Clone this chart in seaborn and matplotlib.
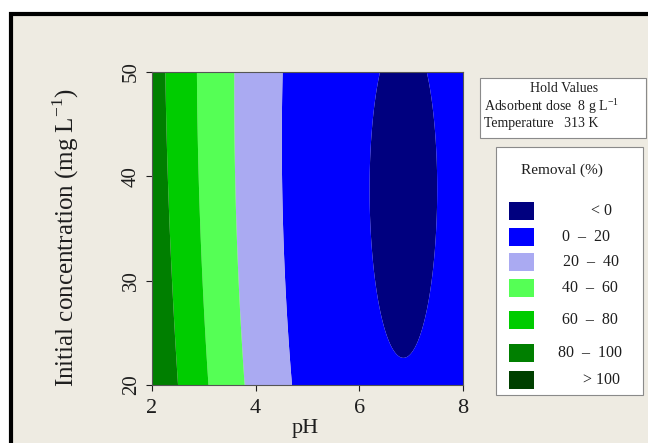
import numpy as np
import matplotlib
matplotlib.use("Agg")
import matplotlib.pyplot as plt
from matplotlib.patches import Rectangle
import seaborn as sns

# Experimental ranges of the two factors shown
ph_range = [2.0, 8.0]
conc_range = [20.0, 50.0]

# Fitted response-surface coefficients for removal (%)
ph_optimum = 6.85          # pH where removal is lowest
conc_optimum = 38.4        # concentration where removal is lowest
ph_curvature = [4.20, 3.83]  # curvature in pH at 20 and 50 mg/L
conc_curvature = 0.00677
min_removal = -1.69

# Contour classes
levels = [-20, 0, 20, 40, 60, 80, 100, 140]
class_labels = ["< 0", "0  \u2013  20", "20  \u2013  40", "40  \u2013  60",
                "60  \u2013  80", "80  \u2013  100", "> 100"]
class_colors = ["#00007F", "#0000FF", "#AAAAF2", "#55FF55",
                "#00CC00", "#007F00", "#004000"]

hold_title = "Hold Values"
hold_lines = ["Adsorbent dose  8 g L$^{-1}$", "Temperature   313 K"]

sns.set_theme(style="white")
plt.rcParams["font.family"] = ["Liberation Serif", "DejaVu Serif"]
plt.rcParams["mathtext.fontset"] = "custom"
plt.rcParams["mathtext.rm"] = "Liberation Serif"

W, H = 648, 443
fig = plt.figure(figsize=(W / 100, H / 100), dpi=100, facecolor="white")


def fx(x):
    return x / W


def fy(y):
    return 1 - y / H


text_color = "#1E1E1E"

# Beige panel with heavy black frame on the left and top
panel_bg = "#EEEBE2"
fig.add_artist(Rectangle((fx(10.5), fy(480)), fx(700), (480 - 14) / H,
                         transform=fig.transFigure, facecolor=panel_bg,
                         edgecolor="black", linewidth=3.0, zorder=0))

ax = fig.add_axes([fx(152), fy(385), fx(463 - 152), (385 - 72) / H])
ax.set_facecolor(panel_bg)

ph = np.linspace(ph_range[0], ph_range[1], 400)
conc = np.linspace(conc_range[0], conc_range[1], 400)
P, C = np.meshgrid(ph, conc)
k = ph_curvature[0] + (ph_curvature[1] - ph_curvature[0]) * (C - 20) / 30
removal = k * (P - ph_optimum) ** 2 + conc_curvature * (C - conc_optimum) ** 2 + min_removal

ax.contourf(P, C, removal, levels=levels, colors=class_colors, antialiased=True)

ax.set_xlim(ph_range)
ax.set_ylim(conc_range)
ax.set_xticks([2, 4, 6, 8])
ax.set_yticks([20, 30, 40, 50])
ax.tick_params(axis="x", labelsize=16, length=4, width=0.8, direction="out",
               pad=6, colors=text_color, bottom=True)
ax.tick_params(axis="y", labelsize=15, length=4, width=0.8, direction="out",
               pad=4, colors=text_color, left=True)
for lab in ax.get_yticklabels():
    lab.set_rotation(90)
    lab.set_va("center")
for s in ax.spines.values():
    s.set_color("#555555")
    s.set_linewidth(0.8)

# Axis titles
fig.text(fx(305), fy(428), "pH", ha="center", va="center",
         fontsize=16, color=text_color)
fig.text(fx(66), fy(238), "Initial concentration (mg L$^{-1}$)", ha="center",
         va="center", rotation=90, fontsize=18, color=text_color)

# Hold values box
fig.add_artist(Rectangle((fx(480), fy(138)), fx(646 - 480), (138 - 78) / H,
                         transform=fig.transFigure, facecolor="white",
                         edgecolor="#8A8A8A", linewidth=0.8, zorder=2))
fig.text(fx(564), fy(89), hold_title, ha="center", va="center",
         fontsize=10, color=text_color, zorder=3)
fig.text(fx(484), fy(106), hold_lines[0], ha="left", va="center",
         fontsize=10, color=text_color, zorder=3)
fig.text(fx(484), fy(124), hold_lines[1], ha="left", va="center",
         fontsize=10, color=text_color, zorder=3)

# Removal legend box
fig.add_artist(Rectangle((fx(496), fy(395)), fx(643 - 496), (395 - 147) / H,
                         transform=fig.transFigure, facecolor="white",
                         edgecolor="#8A8A8A", linewidth=0.8, zorder=2))
fig.text(fx(562), fy(170), "Removal (%)", ha="center", va="center",
         fontsize=11, color=text_color, zorder=3)
swatch_y = [211, 237, 262, 288, 320, 353, 380]
label_x = [591, 562, 563, 562, 562, 558, 583]
for yc, col, lab, lx in zip(swatch_y, class_colors, class_labels, label_x):
    fig.add_artist(Rectangle((fx(509), fy(yc + 9)), fx(25), 18 / H,
                             transform=fig.transFigure, facecolor=col,
                             edgecolor="none", zorder=3))
    fig.text(fx(lx), fy(yc), lab, ha="left", va="center",
             fontsize=11.5, color=text_color, zorder=3)

fig.savefig("out.png", dpi=100, facecolor="white")
